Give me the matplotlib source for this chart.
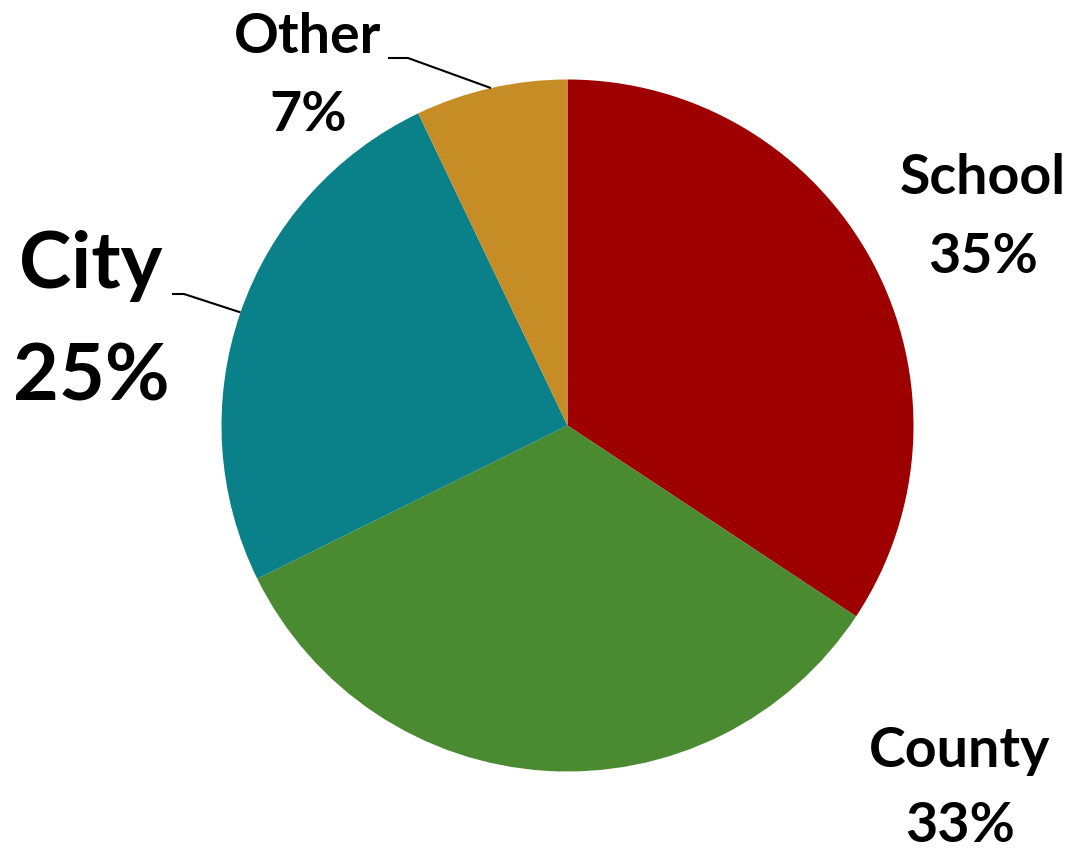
import matplotlib
matplotlib.use("Agg")
import matplotlib.pyplot as plt
import numpy as np

categories = ["School", "County", "City", "Other"]
values = [34.3, 33.4, 25.2, 7.1]          # slice sizes
pct_labels = ["35%", "33%", "25%", "7%"]  # label text shown in the chart
colors = ["#9E0000", "#4A8A30", "#0A8088", "#C68D26"]

W, H = 1076, 849
fig = plt.figure(figsize=(W/100, H/100), dpi=100)
ax = fig.add_axes([0, 0, 1, 1])

cx, cy, r = 567.5, H - 425.5, 346
wedges, _ = ax.pie(values, colors=colors, startangle=90, counterclock=False,
                   center=(cx, cy), radius=r, frame=True,
                   wedgeprops=dict(linewidth=0))
ax.set_xlim(0, W)
ax.set_ylim(0, H)
ax.set_aspect("equal")
ax.axis("off")

fam = ["Lato", "DejaVu Sans"]

def mid_point(i):
    w = wedges[i]
    a = np.deg2rad((w.theta1 + w.theta2) / 2)
    return cx + r*np.cos(a), cy + r*np.sin(a)

# label layout: x center, baseline of name, baseline of percent, fontsize
specs = {
    "School": (983, 194, 273, 40),
    "County": (960, 767, 842, 40),
    "City":   (91, 288, 400, 57),
    "Other":  (308, 53, 131, 40),
}
for i, cat in enumerate(categories):
    x, y1, y2, fs = specs[cat]
    ax.text(x, H - y1, cat, ha="center", va="baseline",
            fontsize=fs, fontweight="bold", family=fam, color="black")
    ax.text(x, H - y2, pct_labels[i], ha="center", va="baseline",
            fontsize=fs, fontweight="bold", family=fam, color="black")

# leader lines
px, py = mid_point(3)
ax.plot([388, 408, px], [H-58, H-58, py], color="black", lw=1.5,
        solid_capstyle="butt")
px, py = mid_point(2)
ax.plot([172, 184, px], [H-294, H-294, py], color="black", lw=1.5,
        solid_capstyle="butt")

fig.savefig("out.png", dpi=100)
